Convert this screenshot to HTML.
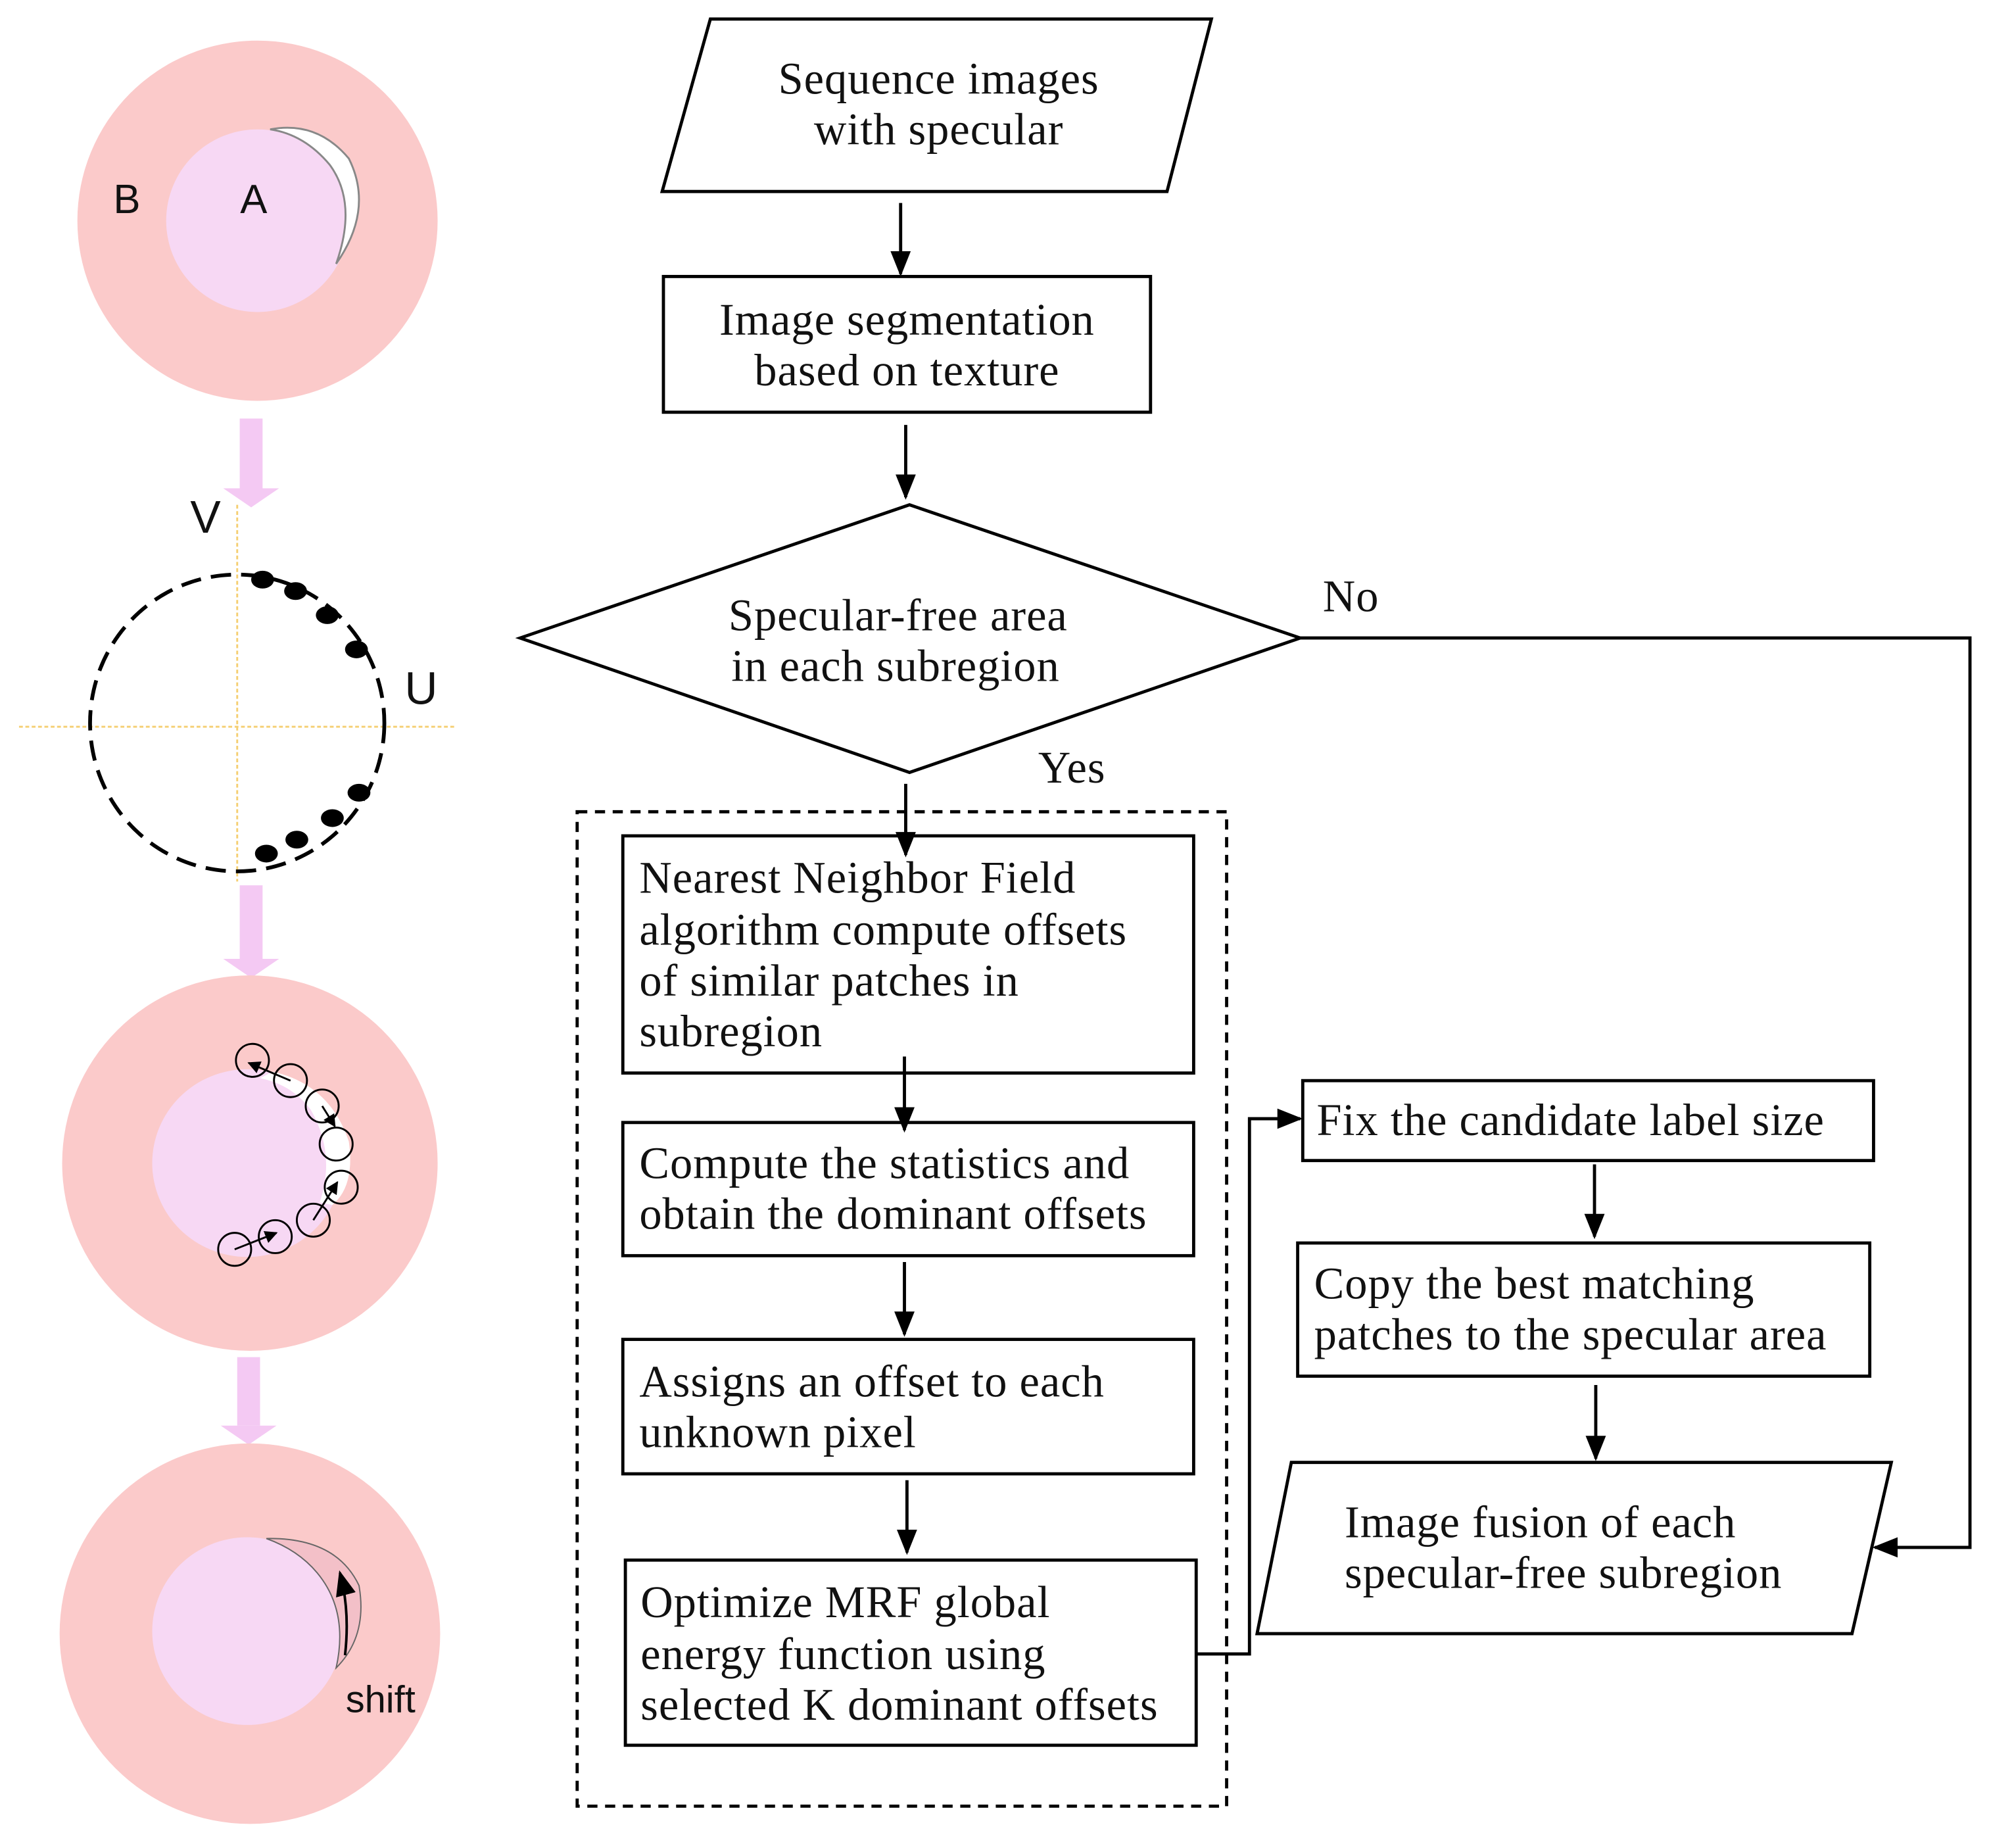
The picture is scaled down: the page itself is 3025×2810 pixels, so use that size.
<!DOCTYPE html>
<html><head><meta charset="utf-8"><style>
html,body{margin:0;padding:0;background:#fff;}
svg{display:block}
.t{font-family:"Liberation Serif",serif;font-size:35.5px;letter-spacing:0.5px;fill:#111}
.s{font-family:"Liberation Sans",sans-serif;fill:#111}
</style></head><body>
<svg width="3025" height="2810" viewBox="0 0 1568 1457" preserveAspectRatio="none" xmlns="http://www.w3.org/2000/svg">
<defs>
<marker id="ah" markerWidth="10" markerHeight="10" refX="9" refY="5" orient="auto" markerUnits="userSpaceOnUse" viewBox="0 0 10 10"><path d="M0,0 L10,5 L0,10 z" fill="#000"/></marker>
<marker id="ah2" markerWidth="20" markerHeight="20" refX="18" refY="10" orient="auto" markerUnits="userSpaceOnUse" viewBox="0 0 20 20"><path d="M0,2 L20,10 L0,18 z" fill="#000"/></marker>
</defs>
<circle cx="203" cy="174" r="142" fill="#fbcaca"/>
<circle cx="203" cy="174" r="72" fill="#f7d8f4"/>
<path d="M213,102 Q250,95 275,125 Q295,165 265,208 Q282,160 260,130 Q240,106 213,102 z" fill="#fff" stroke="#888" stroke-width="1.5"/>
<text x="100" y="168" class="s" font-size="32" text-anchor="middle">B</text>
<text x="200" y="168" class="s" font-size="32" text-anchor="middle">A</text>

<g fill="#f4c9f3">
<rect x="189" y="330" width="18" height="55"/><path d="M176,385 L220,385 L198,400 z"/>
<rect x="189" y="698" width="18" height="58"/><path d="M176,756 L220,756 L198,771 z"/>
<rect x="187" y="1070" width="18" height="54"/><path d="M174,1124 L218,1124 L196,1139 z"/>
</g>

<line x1="187" y1="398" x2="187" y2="695" stroke="#f5cf72" stroke-width="1.5" stroke-dasharray="3,2"/>
<line x1="15" y1="573" x2="360" y2="573" stroke="#f5cf72" stroke-width="1.5" stroke-dasharray="3,2"/>
<ellipse cx="187" cy="570" rx="116" ry="117" fill="none" stroke="#000" stroke-width="3" stroke-dasharray="16,8"/>
<g fill="#000">
<ellipse cx="207" cy="457" rx="9" ry="7"/><ellipse cx="233" cy="466" rx="9" ry="7"/><ellipse cx="258" cy="485" rx="9" ry="7"/><ellipse cx="281" cy="512" rx="9" ry="7"/>
<ellipse cx="283" cy="625" rx="9" ry="7"/><ellipse cx="262" cy="645" rx="9" ry="7"/><ellipse cx="234" cy="662" rx="9" ry="7"/><ellipse cx="210" cy="673" rx="9" ry="7"/>
</g>
<text x="162" y="420" class="s" font-size="36" text-anchor="middle">V</text>
<text x="332" y="555" class="s" font-size="36" text-anchor="middle">U</text>

<circle cx="197" cy="917" r="148" fill="#fbcaca"/>
<ellipse cx="195" cy="917" rx="75" ry="74" fill="#f7d8f4"/>
<path d="M215,845 Q260,855 275,900 Q280,935 262,950 L252,948 Q265,910 245,875 Q230,855 205,850 z" fill="#fff"/>
<g fill="none" stroke="#000" stroke-width="1.5">
<circle cx="199" cy="836" r="13"/><circle cx="229" cy="852" r="13"/><circle cx="254" cy="872" r="13"/><circle cx="265" cy="902" r="13"/><circle cx="269" cy="936" r="13"/><circle cx="247" cy="962" r="13"/><circle cx="217" cy="975" r="13"/><circle cx="185" cy="985" r="13"/>
<path d="M229,852 L196,838" marker-end="url(#ah)"/><path d="M254,872 L264,888" marker-end="url(#ah)"/><path d="M247,962 L266,932" marker-end="url(#ah)"/><path d="M185,985 L218,972" marker-end="url(#ah)"/>
</g>

<circle cx="197" cy="1288" r="150" fill="#fbcaca"/>
<ellipse cx="195" cy="1286" rx="75" ry="74" fill="#f7d8f4"/>
<path d="M210,1213 Q265,1212 283,1250 Q290,1290 265,1315 Q275,1270 250,1240 Q235,1222 210,1213 z" fill="#f3c0c8" stroke="#666" stroke-width="1"/>
<path d="M272,1305 Q276,1270 268,1240" fill="none" stroke="#000" stroke-width="2" marker-end="url(#ah2)"/>
<text x="300" y="1350" class="s" font-size="30" text-anchor="middle">shift</text>

<g fill="none" stroke="#000" stroke-width="2.5">
<path d="M560,15 L955,15 L920,151 L522,151 z" fill="#fff"/>
<rect x="523" y="218" width="384" height="107"/>
<path d="M410,503 L717,398 L1025,503 L717,609 z"/>
<rect x="455" y="640" width="512" height="784" stroke-width="2.5" stroke-dasharray="8,6"/>
<rect x="491" y="659" width="450" height="187"/>
<rect x="491" y="885" width="450" height="105"/>
<rect x="491" y="1056" width="450" height="106"/>
<rect x="493" y="1230" width="450" height="146"/>
<rect x="1027" y="852" width="450" height="63"/>
<rect x="1023" y="980" width="451" height="105"/>
<path d="M1018,1153 L1491,1153 L1460,1288 L991,1288 z"/>
</g>
<g stroke="#000" stroke-width="2.5" fill="none">
<line x1="710" y1="160" x2="710" y2="216" marker-end="url(#ah2)"/>
<line x1="714" y1="335" x2="714" y2="392" marker-end="url(#ah2)"/>
<line x1="714" y1="618" x2="714" y2="674" marker-end="url(#ah2)"/>
<line x1="713" y1="833" x2="713" y2="891" marker-end="url(#ah2)"/>
<line x1="713" y1="995" x2="713" y2="1052" marker-end="url(#ah2)"/>
<line x1="715" y1="1167" x2="715" y2="1224" marker-end="url(#ah2)"/>
<path d="M1025,503 L1553,503 L1553,1220 L1478,1220" marker-end="url(#ah2)"/>
<path d="M943,1304 L985,1304 L985,882 L1025,882" marker-end="url(#ah2)"/>
<line x1="1257" y1="918" x2="1257" y2="975" marker-end="url(#ah2)"/>
<line x1="1258" y1="1092" x2="1258" y2="1150" marker-end="url(#ah2)"/>
</g>
<g class="t" dominant-baseline="central">
<text x="740" y="62" text-anchor="middle">Sequence images</text>
<text x="740" y="102" text-anchor="middle">with specular</text>
<text x="715" y="252" text-anchor="middle">Image segmentation</text>
<text x="715" y="292" text-anchor="middle">based on texture</text>
<text x="708" y="485" text-anchor="middle">Specular-free area</text>
<text x="706" y="525" text-anchor="middle">in each subregion</text>
<text x="1065" y="470" text-anchor="middle">No</text>
<text x="845" y="605" text-anchor="middle">Yes</text>
<text x="504" y="692">Nearest Neighbor Field</text>
<text x="504" y="733">algorithm compute offsets</text>
<text x="504" y="773">of similar patches  in</text>
<text x="504" y="813">subregion</text>
<text x="504" y="917">Compute the statistics and</text>
<text x="504" y="957">obtain the dominant offsets</text>
<text x="504" y="1089">Assigns an offset to each</text>
<text x="504" y="1129">unknown pixel</text>
<text x="505" y="1263">Optimize MRF global</text>
<text x="505" y="1304">energy function using</text>
<text x="505" y="1344">selected K dominant offsets</text>
<text x="1038" y="883">Fix the candidate label size</text>
<text x="1036" y="1012">Copy the best matching</text>
<text x="1036" y="1052">patches to the specular area</text>
<text x="1060" y="1200">Image fusion of each</text>
<text x="1060" y="1240">specular-free subregion</text>
</g>
</svg>
</body></html>
